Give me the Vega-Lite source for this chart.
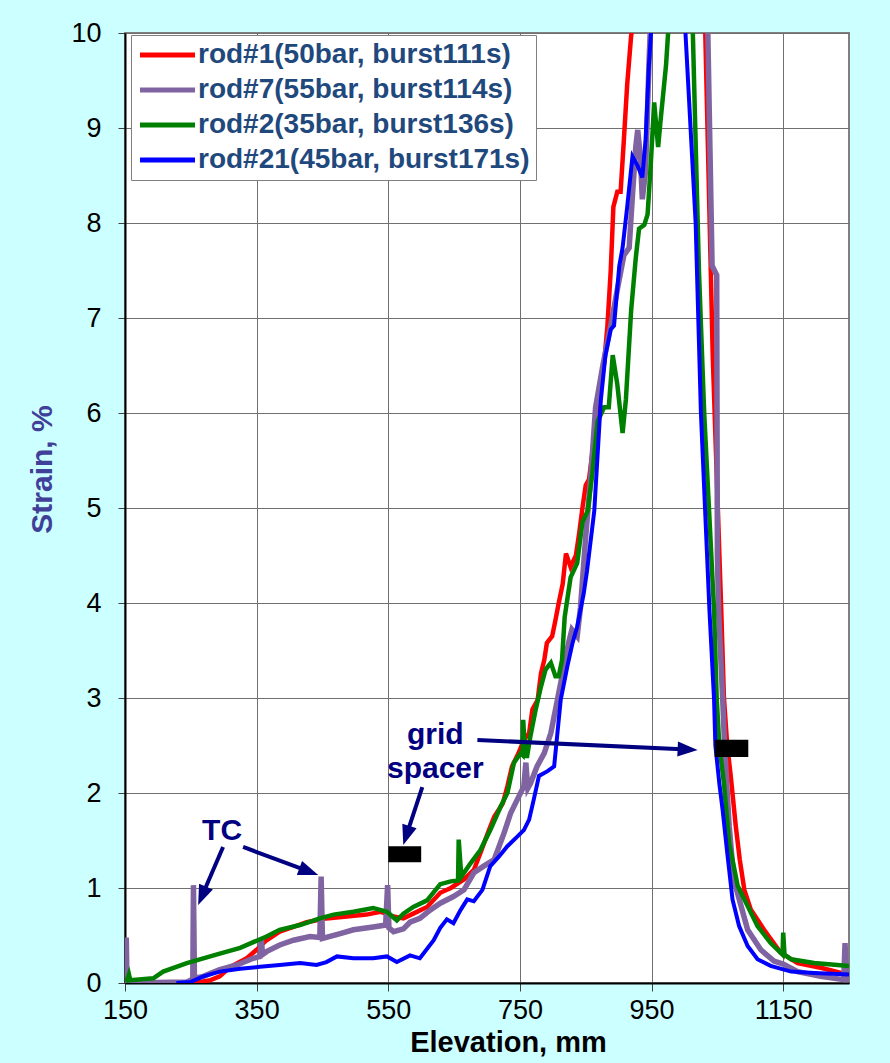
{
  "$schema": "https://vega.github.io/schema/vega-lite/v6.json",
  "width": 724,
  "height": 950,
  "autosize": "none",
  "padding": {"left": 125, "top": 33, "right": 41, "bottom": 80},
  "background": "#CCFFFF",
  "config": {
    "view": {"fill": "white", "stroke": "#808080", "strokeWidth": 2},
    "font": "Liberation Sans"
  },
  "datasets": {
    "rod1": [
      {"elev": 255, "strain": 0}, {"elev": 280, "strain": 0.03}, {"elev": 294, "strain": 0.07}, {"elev": 310, "strain": 0.17},
      {"elev": 335, "strain": 0.26}, {"elev": 350, "strain": 0.35}, {"elev": 365, "strain": 0.45}, {"elev": 385, "strain": 0.54},
      {"elev": 406, "strain": 0.59}, {"elev": 426, "strain": 0.64}, {"elev": 456, "strain": 0.68}, {"elev": 487, "strain": 0.7},
      {"elev": 517, "strain": 0.72}, {"elev": 538, "strain": 0.75}, {"elev": 558, "strain": 0.7}, {"elev": 573, "strain": 0.68},
      {"elev": 588, "strain": 0.73}, {"elev": 609, "strain": 0.8}, {"elev": 629, "strain": 0.95}, {"elev": 645, "strain": 1.0},
      {"elev": 665, "strain": 1.09}, {"elev": 680, "strain": 1.19}, {"elev": 690, "strain": 1.37}, {"elev": 703, "strain": 1.61},
      {"elev": 711, "strain": 1.75}, {"elev": 724, "strain": 1.89}, {"elev": 731, "strain": 2.07}, {"elev": 738, "strain": 2.28},
      {"elev": 748, "strain": 2.42}, {"elev": 756, "strain": 2.56}, {"elev": 764, "strain": 2.63}, {"elev": 769, "strain": 2.88},
      {"elev": 777, "strain": 2.98}, {"elev": 782, "strain": 3.26}, {"elev": 787, "strain": 3.4}, {"elev": 791, "strain": 3.58},
      {"elev": 799, "strain": 3.65}, {"elev": 804, "strain": 3.82}, {"elev": 809, "strain": 4.0}, {"elev": 815, "strain": 4.2},
      {"elev": 820, "strain": 4.52}, {"elev": 827, "strain": 4.38}, {"elev": 835, "strain": 4.5}, {"elev": 840, "strain": 4.73},
      {"elev": 845, "strain": 5.0}, {"elev": 850, "strain": 5.24}, {"elev": 855, "strain": 5.3}, {"elev": 863, "strain": 5.75},
      {"elev": 870, "strain": 6.14}, {"elev": 878, "strain": 6.53}, {"elev": 883, "strain": 6.92}, {"elev": 888, "strain": 7.5},
      {"elev": 892, "strain": 8.17}, {"elev": 898, "strain": 8.33}, {"elev": 903, "strain": 8.33}, {"elev": 908, "strain": 8.88},
      {"elev": 913, "strain": 9.46}, {"elev": 919, "strain": 9.97}, {"elev": 926, "strain": 10.3}, {"elev": 960, "strain": 20},
      {"elev": 1000, "strain": 20}, {"elev": 1031, "strain": 10.2}, {"elev": 1043, "strain": 6.6}, {"elev": 1056, "strain": 3.9},
      {"elev": 1060, "strain": 3.0}, {"elev": 1065, "strain": 2.5}, {"elev": 1070, "strain": 2.2}, {"elev": 1078, "strain": 1.65},
      {"elev": 1084, "strain": 1.3}, {"elev": 1091, "strain": 0.98}, {"elev": 1101, "strain": 0.77}, {"elev": 1121, "strain": 0.56},
      {"elev": 1146, "strain": 0.32}, {"elev": 1172, "strain": 0.21}, {"elev": 1207, "strain": 0.16}, {"elev": 1238, "strain": 0.105},
      {"elev": 1250, "strain": 0.09}
    ],
    "rod7": [
      {"elev": 150, "strain": 0.45}, {"elev": 152, "strain": 0.45}, {"elev": 153, "strain": 0}, {"elev": 244, "strain": 0.01},
      {"elev": 253, "strain": 0.04}, {"elev": 254, "strain": 1.03}, {"elev": 255.5, "strain": 0.05}, {"elev": 269, "strain": 0.07},
      {"elev": 294, "strain": 0.14}, {"elev": 320, "strain": 0.19}, {"elev": 345, "strain": 0.26}, {"elev": 355, "strain": 0.28},
      {"elev": 357, "strain": 0.47}, {"elev": 359, "strain": 0.3}, {"elev": 365, "strain": 0.33}, {"elev": 385, "strain": 0.4},
      {"elev": 406, "strain": 0.45}, {"elev": 431, "strain": 0.49}, {"elev": 446, "strain": 0.48}, {"elev": 448, "strain": 1.12},
      {"elev": 450, "strain": 0.47}, {"elev": 477, "strain": 0.52}, {"elev": 497, "strain": 0.56}, {"elev": 527, "strain": 0.59},
      {"elev": 546, "strain": 0.61}, {"elev": 549, "strain": 1.03}, {"elev": 551, "strain": 0.58}, {"elev": 558, "strain": 0.54},
      {"elev": 573, "strain": 0.57}, {"elev": 583, "strain": 0.64}, {"elev": 598, "strain": 0.68}, {"elev": 614, "strain": 0.77},
      {"elev": 629, "strain": 0.84}, {"elev": 649, "strain": 0.91}, {"elev": 665, "strain": 0.98}, {"elev": 680, "strain": 1.16},
      {"elev": 695, "strain": 1.23}, {"elev": 711, "strain": 1.3}, {"elev": 726, "strain": 1.58}, {"elev": 736, "strain": 1.79},
      {"elev": 746, "strain": 1.93}, {"elev": 756, "strain": 2.07}, {"elev": 759, "strain": 2.32}, {"elev": 762, "strain": 2.05},
      {"elev": 766, "strain": 2.1}, {"elev": 776, "strain": 2.28}, {"elev": 787, "strain": 2.42}, {"elev": 797, "strain": 2.63},
      {"elev": 807, "strain": 2.98}, {"elev": 814, "strain": 3.23}, {"elev": 824, "strain": 3.58}, {"elev": 829, "strain": 3.72},
      {"elev": 837, "strain": 3.65}, {"elev": 842, "strain": 3.95}, {"elev": 850, "strain": 4.7}, {"elev": 858, "strain": 5.36},
      {"elev": 865, "strain": 6.06}, {"elev": 876, "strain": 6.5}, {"elev": 888, "strain": 6.92}, {"elev": 898, "strain": 7.3},
      {"elev": 908, "strain": 7.66}, {"elev": 916, "strain": 7.74}, {"elev": 921, "strain": 8.29}, {"elev": 926, "strain": 8.8},
      {"elev": 929, "strain": 8.98}, {"elev": 933, "strain": 8.7}, {"elev": 936, "strain": 8.25}, {"elev": 941, "strain": 8.56},
      {"elev": 946, "strain": 9.66}, {"elev": 949, "strain": 10.2}, {"elev": 980, "strain": 20}, {"elev": 1010, "strain": 20},
      {"elev": 1035, "strain": 10.2}, {"elev": 1042, "strain": 7.55}, {"elev": 1049, "strain": 7.45}, {"elev": 1049.5, "strain": 6.0},
      {"elev": 1050, "strain": 4.5}, {"elev": 1052, "strain": 3.9}, {"elev": 1058, "strain": 3.0}, {"elev": 1061, "strain": 2.5},
      {"elev": 1065, "strain": 2.0}, {"elev": 1068, "strain": 1.65}, {"elev": 1075, "strain": 1.09}, {"elev": 1086, "strain": 0.81},
      {"elev": 1096, "strain": 0.56}, {"elev": 1116, "strain": 0.35}, {"elev": 1136, "strain": 0.23}, {"elev": 1150, "strain": 0.2},
      {"elev": 1172, "strain": 0.12}, {"elev": 1207, "strain": 0.07}, {"elev": 1242, "strain": 0.035}, {"elev": 1244, "strain": 0.42},
      {"elev": 1246, "strain": 0.04}, {"elev": 1250, "strain": 0.03}
    ],
    "rod2": [
      {"elev": 150, "strain": 0.04}, {"elev": 153, "strain": 0.03}, {"elev": 156, "strain": 0.09}, {"elev": 158, "strain": 0.03},
      {"elev": 193, "strain": 0.05}, {"elev": 208, "strain": 0.12}, {"elev": 244, "strain": 0.21}, {"elev": 294, "strain": 0.31},
      {"elev": 325, "strain": 0.37}, {"elev": 345, "strain": 0.43}, {"elev": 365, "strain": 0.49}, {"elev": 385, "strain": 0.56},
      {"elev": 416, "strain": 0.61}, {"elev": 446, "strain": 0.68}, {"elev": 467, "strain": 0.72}, {"elev": 497, "strain": 0.75},
      {"elev": 527, "strain": 0.79}, {"elev": 548, "strain": 0.75}, {"elev": 563, "strain": 0.66}, {"elev": 573, "strain": 0.73},
      {"elev": 588, "strain": 0.8}, {"elev": 609, "strain": 0.87}, {"elev": 629, "strain": 1.04}, {"elev": 645, "strain": 1.07},
      {"elev": 656, "strain": 1.08}, {"elev": 657, "strain": 1.51}, {"elev": 661, "strain": 1.12}, {"elev": 675, "strain": 1.26},
      {"elev": 690, "strain": 1.4}, {"elev": 705, "strain": 1.61}, {"elev": 721, "strain": 1.86}, {"elev": 731, "strain": 2.0},
      {"elev": 741, "strain": 2.32}, {"elev": 751, "strain": 2.42}, {"elev": 754, "strain": 2.4}, {"elev": 755, "strain": 2.77},
      {"elev": 758, "strain": 2.39}, {"elev": 761, "strain": 2.39}, {"elev": 766, "strain": 2.6}, {"elev": 774, "strain": 2.88},
      {"elev": 782, "strain": 3.12}, {"elev": 789, "strain": 3.3}, {"elev": 797, "strain": 3.37}, {"elev": 804, "strain": 3.23},
      {"elev": 809, "strain": 3.23}, {"elev": 814, "strain": 3.4}, {"elev": 818, "strain": 3.85}, {"elev": 827, "strain": 4.27},
      {"elev": 837, "strain": 4.42}, {"elev": 845, "strain": 4.85}, {"elev": 853, "strain": 4.97}, {"elev": 860, "strain": 5.36},
      {"elev": 868, "strain": 5.91}, {"elev": 878, "strain": 6.06}, {"elev": 885, "strain": 6.06}, {"elev": 891, "strain": 6.61},
      {"elev": 898, "strain": 6.3}, {"elev": 906, "strain": 5.79}, {"elev": 911, "strain": 6.14}, {"elev": 919, "strain": 7.08},
      {"elev": 926, "strain": 7.63}, {"elev": 931, "strain": 7.94}, {"elev": 939, "strain": 7.98}, {"elev": 944, "strain": 8.09},
      {"elev": 949, "strain": 8.64}, {"elev": 954, "strain": 9.27}, {"elev": 960, "strain": 8.8}, {"elev": 964, "strain": 9.1},
      {"elev": 972, "strain": 9.66}, {"elev": 977, "strain": 10.2}, {"elev": 990, "strain": 18}, {"elev": 1005, "strain": 18},
      {"elev": 1012, "strain": 10.2}, {"elev": 1022, "strain": 7.5}, {"elev": 1030, "strain": 6.0}, {"elev": 1045, "strain": 3.92},
      {"elev": 1049, "strain": 3.0}, {"elev": 1053, "strain": 2.5}, {"elev": 1060, "strain": 2.1}, {"elev": 1068, "strain": 1.47},
      {"elev": 1081, "strain": 1.02}, {"elev": 1096, "strain": 0.81}, {"elev": 1111, "strain": 0.6}, {"elev": 1131, "strain": 0.42},
      {"elev": 1146, "strain": 0.32}, {"elev": 1149, "strain": 0.3}, {"elev": 1150, "strain": 0.53}, {"elev": 1152, "strain": 0.3},
      {"elev": 1162, "strain": 0.25}, {"elev": 1197, "strain": 0.21}, {"elev": 1250, "strain": 0.18}
    ],
    "rod21": [
      {"elev": 228, "strain": 0}, {"elev": 249, "strain": 0.01}, {"elev": 269, "strain": 0.07}, {"elev": 294, "strain": 0.12},
      {"elev": 325, "strain": 0.15}, {"elev": 355, "strain": 0.17}, {"elev": 385, "strain": 0.19}, {"elev": 416, "strain": 0.21},
      {"elev": 441, "strain": 0.19}, {"elev": 456, "strain": 0.22}, {"elev": 472, "strain": 0.28}, {"elev": 497, "strain": 0.26},
      {"elev": 527, "strain": 0.26}, {"elev": 548, "strain": 0.28}, {"elev": 563, "strain": 0.22}, {"elev": 583, "strain": 0.29},
      {"elev": 598, "strain": 0.26}, {"elev": 619, "strain": 0.45}, {"elev": 629, "strain": 0.58}, {"elev": 639, "strain": 0.67},
      {"elev": 649, "strain": 0.63}, {"elev": 660, "strain": 0.77}, {"elev": 670, "strain": 0.88}, {"elev": 680, "strain": 0.86},
      {"elev": 693, "strain": 0.98}, {"elev": 705, "strain": 1.23}, {"elev": 718, "strain": 1.33}, {"elev": 731, "strain": 1.44},
      {"elev": 746, "strain": 1.54}, {"elev": 756, "strain": 1.61}, {"elev": 764, "strain": 1.72}, {"elev": 771, "strain": 1.93},
      {"elev": 779, "strain": 2.18}, {"elev": 792, "strain": 2.23}, {"elev": 802, "strain": 2.28}, {"elev": 812, "strain": 2.98},
      {"elev": 822, "strain": 3.33}, {"elev": 830, "strain": 3.58}, {"elev": 837, "strain": 3.75}, {"elev": 847, "strain": 4.1},
      {"elev": 852, "strain": 4.34}, {"elev": 863, "strain": 4.97}, {"elev": 873, "strain": 6.14}, {"elev": 880, "strain": 6.61},
      {"elev": 888, "strain": 6.88}, {"elev": 893, "strain": 6.92}, {"elev": 901, "strain": 7.55}, {"elev": 906, "strain": 7.74},
      {"elev": 913, "strain": 8.17}, {"elev": 921, "strain": 8.7}, {"elev": 929, "strain": 8.6}, {"elev": 936, "strain": 8.48},
      {"elev": 941, "strain": 8.88}, {"elev": 946, "strain": 9.66}, {"elev": 951, "strain": 10.2}, {"elev": 975, "strain": 22},
      {"elev": 995, "strain": 22}, {"elev": 1000, "strain": 10.2}, {"elev": 1017, "strain": 8.0}, {"elev": 1025, "strain": 6.0},
      {"elev": 1038, "strain": 3.92}, {"elev": 1045, "strain": 2.98}, {"elev": 1047, "strain": 2.5}, {"elev": 1053, "strain": 2.1},
      {"elev": 1058, "strain": 1.82}, {"elev": 1065, "strain": 1.37}, {"elev": 1073, "strain": 0.88}, {"elev": 1083, "strain": 0.6},
      {"elev": 1096, "strain": 0.39}, {"elev": 1111, "strain": 0.25}, {"elev": 1131, "strain": 0.18}, {"elev": 1162, "strain": 0.12},
      {"elev": 1197, "strain": 0.105}, {"elev": 1250, "strain": 0.09}
    ],
    "spacers": [
      {"elev": 550, "elev2": 600, "strain": 1.27, "strain2": 1.44},
      {"elev": 1046, "elev2": 1097, "strain": 2.38, "strain2": 2.56}
    ],
    "arrows": [
      {"id": "tc1", "elev": 299.0, "strain": 1.432, "elev2": 267.1, "strain2": 0.918},
      {"id": "tc2", "elev": 329.5, "strain": 1.432, "elev2": 429.3, "strain2": 1.174},
      {"id": "sp1", "elev": 601.7, "strain": 2.063, "elev2": 577.5, "strain2": 1.553},
      {"id": "sp2", "elev": 685.4, "strain": 2.558, "elev2": 1004.8, "strain2": 2.458}
    ],
    "notes": [
      {"text": "TC", "elev": 297.5, "strain": 1.505},
      {"text": "grid", "elev": 621.5, "strain": 2.52},
      {"text": "spacer", "elev": 621.5, "strain": 2.158}
    ]
  },
  "encoding": {
    "x": {
      "field": "elev", "type": "quantitative",
      "scale": {"domain": [150, 1250], "nice": false, "zero": false},
      "axis": {
        "title": "Elevation, mm", "values": [150, 350, 550, 750, 950, 1150], "format": "d",
        "labelFlush": false, "labelOverlap": false,
        "grid": true, "gridColor": "#707070", "gridWidth": 1,
        "domainColor": "#000000", "domainWidth": 2,
        "tickColor": "#404040", "tickSize": 8, "tickWidth": 1,
        "labelFont": "Liberation Sans", "labelFontSize": 27, "labelColor": "#000000", "labelPadding": 6,
        "titleFont": "Liberation Sans", "titleFontSize": 29, "titleFontWeight": "bold", "titleColor": "#000000",
        "titlePadding": 5, "titleX": 383, "titleAlign": "center"
      }
    },
    "y": {
      "field": "strain", "type": "quantitative",
      "scale": {"domain": [0, 10], "nice": false},
      "axis": {
        "title": "Strain, %", "values": [0, 1, 2, 3, 4, 5, 6, 7, 8, 9, 10],
        "grid": true, "gridColor": "#707070", "gridWidth": 1,
        "domainColor": "#000000", "domainWidth": 2,
        "tickColor": "#404040", "tickSize": 7, "tickWidth": 1,
        "labelFont": "Liberation Sans", "labelFontSize": 27, "labelColor": "#000000", "labelPadding": 17,
        "titleFont": "Liberation Sans", "titleFontSize": 30, "titleFontWeight": "bold", "titleColor": "#404099",
        "titlePadding": 13, "titleY": 436
      }
    }
  },
  "layer": [
    {
      "data": {"name": "rod1"},
      "mark": {"type": "line", "strokeWidth": 4.5, "clip": true},
      "encoding": {
        "color": {
          "datum": "rod#1(50bar, burst111s)", "type": "nominal",
          "scale": {
            "domain": ["rod#1(50bar, burst111s)", "rod#7(55bar, burst114s)", "rod#2(35bar, burst136s)", "rod#21(45bar, burst171s)"],
            "range": ["#FF0000", "#8064A2", "#008000", "#0000FF"]
          },
          "legend": {
            "orient": "none", "legendX": 6, "legendY": 2, "title": null,
            "symbolType": "M-1,0H4", "symbolSize": 484, "symbolStrokeWidth": 5,
            "labelFont": "Liberation Sans", "labelFontSize": 28, "labelFontWeight": "bold", "labelColor": "#1F497D",
            "labelOffset": 33, "labelLimit": 500, "rowPadding": 7, "padding": 6,
            "strokeColor": "#808080", "fillColor": "#FFFFFF"
          }
        }
      }
    },
    {
      "data": {"name": "rod7"},
      "mark": {"type": "line", "strokeWidth": 5.5, "clip": true},
      "encoding": {"color": {"datum": "rod#7(55bar, burst114s)", "type": "nominal"}}
    },
    {
      "data": {"name": "rod2"},
      "mark": {"type": "line", "strokeWidth": 4.5, "clip": true},
      "encoding": {"color": {"datum": "rod#2(35bar, burst136s)", "type": "nominal"}}
    },
    {
      "data": {"name": "rod21"},
      "mark": {"type": "line", "strokeWidth": 4, "clip": true},
      "encoding": {"color": {"datum": "rod#21(45bar, burst171s)", "type": "nominal"}}
    },
    {
      "data": {"name": "spacers"},
      "mark": {"type": "rect", "color": "#000000"},
      "encoding": {"x2": {"field": "elev2"}, "y2": {"field": "strain2"}}
    },
    {
      "data": {"name": "arrows"},
      "mark": {"type": "rule", "color": "#000080", "strokeWidth": 4},
      "encoding": {"x2": {"field": "elev2"}, "y2": {"field": "strain2"}}
    },
    {
      "data": {"name": "arrows"},
      "transform": [{"filter": "datum.id == 'tc1'"}],
      "mark": {"type": "point", "shape": "M0,-1L0.75,1L-0.75,1Z", "filled": true, "color": "#000080", "opacity": 1, "size": 400, "angle": 203},
      "encoding": {"x": {"field": "elev2", "type": "quantitative"}, "y": {"field": "strain2", "type": "quantitative"}}
    },
    {
      "data": {"name": "arrows"},
      "transform": [{"filter": "datum.id == 'tc2'"}],
      "mark": {"type": "point", "shape": "M0,-1L0.75,1L-0.75,1Z", "filled": true, "color": "#000080", "opacity": 1, "size": 400, "angle": 110.5},
      "encoding": {"x": {"field": "elev2", "type": "quantitative"}, "y": {"field": "strain2", "type": "quantitative"}}
    },
    {
      "data": {"name": "arrows"},
      "transform": [{"filter": "datum.id == 'sp1'"}],
      "mark": {"type": "point", "shape": "M0,-1L0.75,1L-0.75,1Z", "filled": true, "color": "#000080", "opacity": 1, "size": 400, "angle": 198},
      "encoding": {"x": {"field": "elev2", "type": "quantitative"}, "y": {"field": "strain2", "type": "quantitative"}}
    },
    {
      "data": {"name": "arrows"},
      "transform": [{"filter": "datum.id == 'sp2'"}],
      "mark": {"type": "point", "shape": "M0,-1L0.75,1L-0.75,1Z", "filled": true, "color": "#000080", "opacity": 1, "size": 400, "angle": 92.6},
      "encoding": {"x": {"field": "elev2", "type": "quantitative"}, "y": {"field": "strain2", "type": "quantitative"}}
    },
    {
      "data": {"name": "notes"},
      "mark": {"type": "text", "font": "Liberation Sans", "fontSize": 30, "fontWeight": "bold", "color": "#000080", "align": "center", "baseline": "alphabetic"},
      "encoding": {"text": {"field": "text"}}
    }
  ]
}
